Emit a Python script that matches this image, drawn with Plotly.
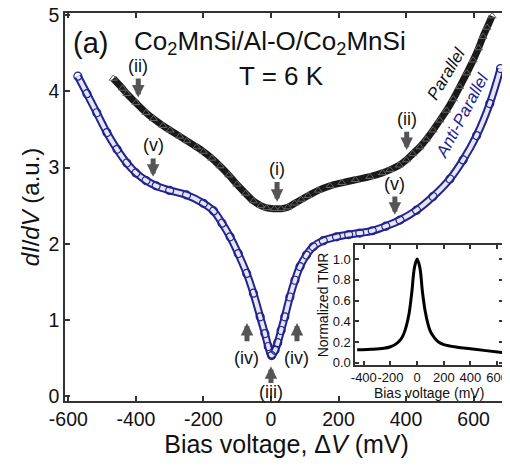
import plotly.graph_objects as go

# ---- Main panel data ----
ap_bias = [-572, -545, -516, -486, -456, -427, -400, -370, -340, -300, -250, -200,
           -170, -145, -121, -97, -72, -52, -32, -18, -8, 2, 12, 20, 30, 41, 56, 71,
           86, 105, 125, 155, 194, 230, 263, 300, 340, 382, 431, 480, 530, 569, 609,
           648, 680]
ap_didv = [4.20, 3.97, 3.72, 3.46, 3.24, 3.06, 2.93, 2.83, 2.76, 2.70, 2.64, 2.53,
           2.43, 2.27, 2.09, 1.87, 1.61, 1.35, 1.04, 0.82, 0.65, 0.53, 0.60, 0.70,
           0.86, 1.04, 1.30, 1.52, 1.70, 1.85, 1.96, 2.04, 2.09, 2.12, 2.14, 2.17,
           2.23, 2.31, 2.44, 2.62, 2.85, 3.10, 3.42, 3.84, 4.30]

p_bias = [-467, -440, -427, -400, -370, -348, -320, -299, -270, -249, -220, -200,
          -175, -151, -125, -101, -75, -52, -30, -13, 10, 30, 50, 70, 90, 110, 140,
          175, 210, 250, 293, 330, 352, 380, 401, 420, 441, 460, 480, 500, 520, 540,
          559, 580, 599, 615, 628, 640, 655]
p_didv = [4.17, 4.04, 3.97, 3.85, 3.72, 3.64, 3.55, 3.49, 3.41, 3.35, 3.27, 3.21,
          3.12, 3.02, 2.90, 2.78, 2.66, 2.56, 2.50, 2.47, 2.46, 2.46, 2.48, 2.53,
          2.58, 2.63, 2.70, 2.76, 2.80, 2.84, 2.88, 2.93, 2.97, 3.03, 3.10, 3.18,
          3.27, 3.37, 3.49, 3.62, 3.75, 3.90, 4.06, 4.24, 4.41, 4.57, 4.72, 4.84,
          4.99]

# ---- Inset data ----
tmr_bias = [-450, -350, -250, -200, -150, -120, -100, -80, -60, -40, -20, 0, 20, 40,
            60, 80, 100, 130, 160, 200, 300, 400, 500, 640]
tmr_norm = [0.125, 0.13, 0.14, 0.155, 0.19, 0.23, 0.28, 0.36, 0.48, 0.68, 0.92, 1.0,
            0.92, 0.68, 0.50, 0.38, 0.30, 0.24, 0.20, 0.175, 0.15, 0.135, 0.12, 0.10]

main_xticks = [-600, -400, -200, 0, 200, 400, 600]
main_xlabels = ["-600", "-400", "-200", "0", "200", "400", "600"]
main_yticks = [0, 1, 2, 3, 4, 5]
inset_xticks = [-400, -200, 0, 200, 400, 600]
inset_xlabels = ["-400", "-200", "0", "200", "400", "600"]
inset_yticks = [0.0, 0.2, 0.4, 0.6, 0.8, 1.0]

NAVY = "#23238e"
FONT = "Liberation Sans, Arial, sans-serif"
AXC = "#333333"

fig = go.Figure()

# Anti-parallel: hollow tube + open circles
fig.add_trace(go.Scatter(x=ap_bias, y=ap_didv, mode="lines",
                         line=dict(color=NAVY, width=8, shape="spline"),
                         hoverinfo="skip", showlegend=False))
fig.add_trace(go.Scatter(x=ap_bias, y=ap_didv, mode="lines",
                         line=dict(color="#e6e6f3", width=4, shape="spline"),
                         hoverinfo="skip", showlegend=False))
fig.add_trace(go.Scatter(x=ap_bias, y=ap_didv, mode="markers",
                         marker=dict(symbol="circle-open", size=8, color=NAVY,
                                     line=dict(width=1.2, color=NAVY)),
                         showlegend=False))

# Parallel: dark band of open triangles
fig.add_trace(go.Scatter(x=p_bias, y=p_didv, mode="lines",
                         line=dict(color="#1a1a1a", width=7, shape="spline"),
                         hoverinfo="skip", showlegend=False))
fig.add_trace(go.Scatter(x=p_bias, y=p_didv, mode="markers",
                         marker=dict(symbol="triangle-up-open", size=7, color="#666666",
                                     line=dict(width=1, color="#666666")),
                         showlegend=False))

# Inset
fig.add_trace(go.Scatter(x=tmr_bias, y=tmr_norm, mode="lines",
                         line=dict(color="black", width=3, shape="spline"),
                         xaxis="x2", yaxis="y2", showlegend=False))

ax_common = dict(showline=True, linecolor=AXC, linewidth=1.5, mirror="ticks",
                 ticks="inside", tickcolor=AXC, tickwidth=1.5, showgrid=False,
                 zeroline=False, automargin=False, tickangle=0)

# The page body adds an 8 px margin, so the figure is 8 px smaller and margins shifted.
fig.update_layout(
    width=502, height=460,
    margin=dict(l=57, r=2, t=5, b=67),
    paper_bgcolor="white", plot_bgcolor="white",
    font=dict(family=FONT, color="#111111"),
    xaxis=dict(range=[-610, 702], tickvals=main_xticks, ticktext=main_xlabels,
               ticklen=5, tickfont=dict(size=19.5), **ax_common,
               title=dict(text="Bias voltage, \u0394<i>V</i> (mV)",
                          font=dict(size=25), standoff=4)),
    yaxis=dict(range=[-0.066, 5.03], tickvals=main_yticks, ticklen=5,
               tickfont=dict(size=19.5), **ax_common,
               title=dict(text="<i>dI</i>/<i>dV</i> (a.u.)",
                          font=dict(size=24), standoff=2)),
    xaxis2=dict(domain=[0.655, 0.989], anchor="y2", range=[-465, 645],
                tickvals=inset_xticks, ticktext=inset_xlabels, ticklen=4,
                tickfont=dict(size=13),
                title=dict(text="Bias voltage (mV)", font=dict(size=14), standoff=1),
                **ax_common),
    yaxis2=dict(domain=[0.093, 0.402], anchor="x2", range=[-0.02, 1.135],
                tickvals=inset_yticks, tickformat=".1f", ticklen=4,
                tickfont=dict(size=13),
                title=dict(text="Normalized TMR", font=dict(size=14), standoff=1),
                **ax_common),
)

ann = []
# Text labels
ann.append(dict(x=-592, y=4.64, xref="x", yref="y", text="(a)", showarrow=False,
                xanchor="left", font=dict(size=29)))
ann.append(dict(x=-3, y=4.64, xref="x", yref="y",
                text="Co<sub>2</sub>MnSi/Al-O/Co<sub>2</sub>MnSi", showarrow=False,
                font=dict(size=26)))
ann.append(dict(x=30, y=4.2, xref="x", yref="y", text="T = 6 K", showarrow=False,
                font=dict(size=26)))
ann.append(dict(x=521, y=4.23, xref="x", yref="y", text="<i>Parallel</i>",
                showarrow=False, textangle=-59, font=dict(size=17, color="#111111")))
ann.append(dict(x=566, y=3.69, xref="x", yref="y", text="<i>Anti-Parallel</i>",
                showarrow=False, textangle=-62, font=dict(size=17, color=NAVY)))

# Arrow markers: (label, x, tip_y, tail_y, label_y)
arrows = [("(ii)", -393, 3.92, 4.19, 4.34),
          ("(v)", -349, 2.88, 3.14, 3.29),
          ("(i)", 18, 2.55, 2.83, 2.98),
          ("(ii)", 402, 3.23, 3.49, 3.64),
          ("(v)", 367, 2.38, 2.64, 2.79),
          ("(iv)", -71, 0.96, 0.70, 0.50),
          ("(iv)", 77, 0.96, 0.70, 0.50),
          ("(iii)", 0, 0.39, 0.15, 0.05)]
for lab, xv, tip, tail, ly in arrows:
    ann.append(dict(x=xv, y=tip, ax=xv, ay=tail, xref="x", yref="y",
                    axref="x", ayref="y", text="", showarrow=True,
                    arrowhead=2, arrowsize=0.5, arrowwidth=5, arrowcolor="#555555"))
    ann.append(dict(x=xv, y=ly, xref="x", yref="y", text=lab, showarrow=False,
                    font=dict(size=18)))

fig.update_layout(annotations=ann)
fig.write_html("out.html")
